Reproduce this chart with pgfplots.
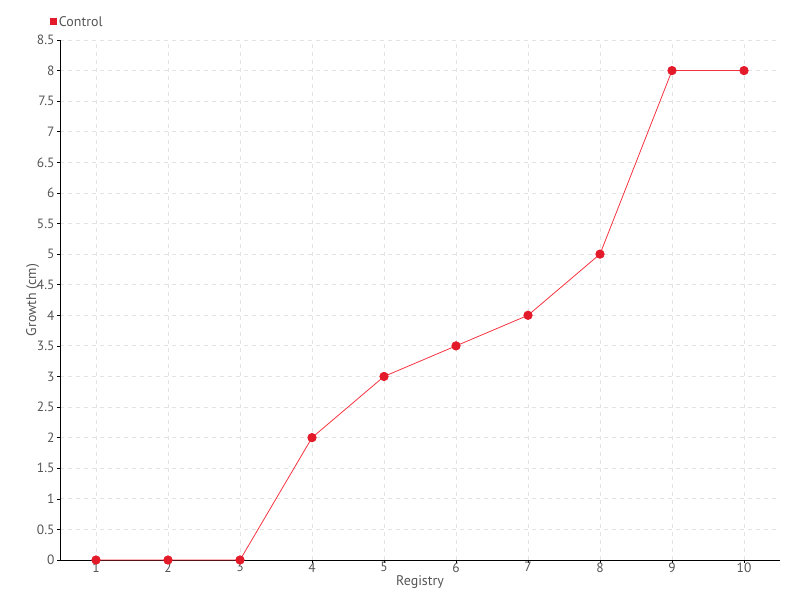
\documentclass[border=0pt]{standalone}
\usepackage{pgfplots}
\pgfplotsset{compat=1.18}
\usepackage{fontspec}
\setmainfont{PT Sans}
\definecolor{ptred}{HTML}{E31A2A}
\definecolor{lnred}{HTML}{F5333F}
\definecolor{txt}{HTML}{555555}
\definecolor{grd}{HTML}{E3E3E3}
\begin{document}
\begin{tikzpicture}[x=1bp,y=1bp]
\path[use as bounding box] (0,0) rectangle (800,600);
\begin{axis}[
  at={(60bp,40bp)}, anchor=south west,
  scale only axis, width=720bp, height=520bp,
  xmin=0.5, xmax=10.5, ymin=0, ymax=8.5,
  xtick={1,...,10},
  ytick={0,0.5,...,8.5},
  yticklabels={0,0.5,1,1.5,2,2.5,3,3.5,4,4.5,5,5.5,6,6.5,7,7.5,8,8.5},
  axis x line*=bottom, axis y line*=left,
  axis line style={black, line width=0.8pt, -},
  tick align=outside, major tick length=3bp,
  tick style={black, line width=0.6pt},
  grid=major,
  major grid style={grd, dash pattern=on 4bp off 4bp, line width=0.8pt},
  /pgf/number format/assume math mode=true,
  tick label style={font=\fontsize{13.5}{15}\selectfont, text=txt},
  xticklabel style={yshift=4bp},
  yticklabel style={xshift=1bp},
  xlabel={Registry}, ylabel={Growth (cm)},
  label style={font=\fontsize{14}{16}\selectfont, text=txt},
  xlabel style={yshift=3bp},
  ylabel style={yshift=-9bp},
  legend style={at={(-0.0139,1.035)}, anchor=west, draw=none, fill=none,
    font=\fontsize{14}{16}\selectfont, text=txt, inner sep=0pt,
    legend cell align=left},
  legend image code/.code={\fill[ptred] (-0.5bp,-3bp) rectangle (5.5bp,3bp);},
  clip=false,
]
\addplot[lnred, line width=0.8pt, mark=*, mark size=4.2bp,
  mark options={fill=ptred, draw=ptred}]
  coordinates {(1,0) (2,0) (3,0) (4,2) (5,3) (6,3.5) (7,4) (8,5) (9,8) (10,8)};
\addlegendentry{Control}
\end{axis}
\end{tikzpicture}
\end{document}
